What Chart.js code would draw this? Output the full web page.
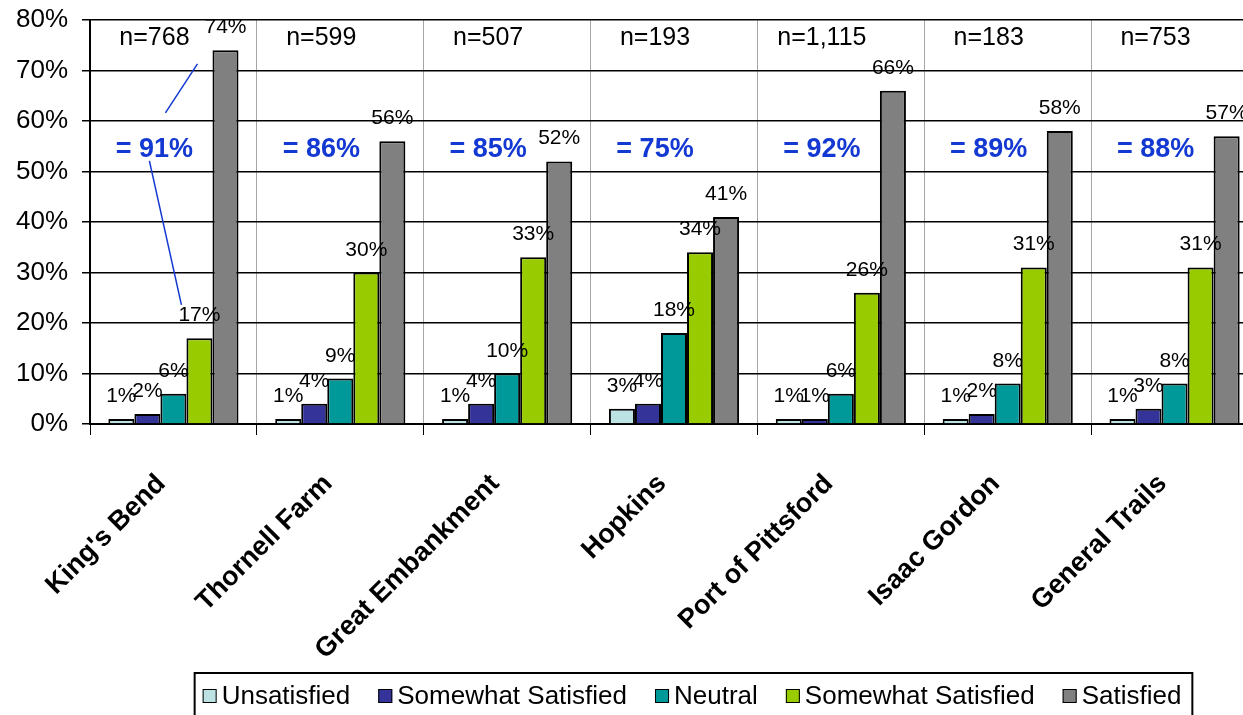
<!DOCTYPE html>
<html>
<head>
<meta charset="utf-8">
<script src="https://cdn.jsdelivr.net/npm/chart.js@4.4.1/dist/chart.umd.min.js"></script>
<style>
    html, body { margin: 0; padding: 0; background: #fff; overflow: hidden; }
    #wrap { position: relative; width: 1264px; height: 715px; }
</style>
</head>
<body>
<div id="wrap"><canvas id="chart"></canvas></div>
<script>
"use strict";

// Data
const trails = ["King's Bend", 'Thornell Farm', 'Great Embankment', 'Hopkins', 'Port of Pittsford', 'Isaac Gordon', 'General Trails'];
const seriesNames = ['Unsatisfied', 'Somewhat Satisfied', 'Neutral', 'Somewhat Satisfied', 'Satisfied'];
const unsatisfied = [1, 1, 1, 3, 1, 1, 1];
const somewhatUnsatisfied = [2, 4, 4, 4, 1, 2, 3];
const neutral = [6, 9, 10, 18, 6, 8, 8];
const somewhatSatisfied = [17, 30, 33, 34, 26, 31, 31];
const satisfied = [74, 56, 52, 41, 66, 58, 57];
const sampleSizes = ['n=768', 'n=599', 'n=507', 'n=193', 'n=1,115', 'n=183', 'n=753'];
const satisfiedTotals = [91, 86, 85, 75, 92, 89, 88];
const yTicks = [0, 10, 20, 30, 40, 50, 60, 70, 80];

// Pointer lines in King's Bend, in (category offset, percent) units
const pointerLines = [
    [[0.144, 71.3], [-0.048, 61.6]],
    [[-0.144, 52.1], [0.048, 23.6]]
];

const FONT = "'Liberation Sans', Arial, sans-serif";
const colors = ['#BDE2E4', '#333399', '#009999', '#99CC00', '#808080'];
const values = [unsatisfied, somewhatUnsatisfied, neutral, somewhatSatisfied, satisfied];

/**
 * Value labels, sample sizes, totals and pointer lines
 */
const annotationPlugin = {
    id: 'annotations',
    afterDatasetsDraw(chart) {
        const ctx = chart.ctx;
        const x = chart.scales.x;
        const y = chart.scales.y;
        const step = x.getPixelForValue(1) - x.getPixelForValue(0);

        ctx.save();
        ctx.fillStyle = '#000';
        ctx.font = '21px ' + FONT;
        ctx.textAlign = 'center';
        ctx.textBaseline = 'alphabetic';
        chart.data.datasets.forEach((ds, di) => {
            chart.getDatasetMeta(di).data.forEach((bar, i) => {
                ctx.fillText(ds.data[i] + '%', bar.x, bar.y - 17);
            });
        });

        ctx.font = '25px ' + FONT;
        ctx.textBaseline = 'middle';
        sampleSizes.forEach((t, i) => {
            ctx.fillText(t, x.getPixelForValue(i) - 19, y.getPixelForValue(76.4));
        });

        ctx.fillStyle = '#1438D2';
        ctx.font = 'bold 27px ' + FONT;
        satisfiedTotals.forEach((v, i) => {
            ctx.fillText('= ' + v + '%', x.getPixelForValue(i) - 19, y.getPixelForValue(54.3));
        });

        ctx.strokeStyle = '#1438D2';
        ctx.lineWidth = 1.5;
        const cx = x.getPixelForValue(0);
        pointerLines.forEach(seg => {
            ctx.beginPath();
            ctx.moveTo(cx + seg[0][0] * step, y.getPixelForValue(seg[0][1]));
            ctx.lineTo(cx + seg[1][0] * step, y.getPixelForValue(seg[1][1]));
            ctx.stroke();
        });
        ctx.restore();
    }
};

/**
 * Boxed legend at the bottom
 */
const boxLegendPlugin = {
    id: 'boxLegend',
    afterDraw(chart) {
        const ctx = chart.ctx;
        const area = chart.chartArea;
        const box = 14, gapText = 5, gapItem = 28;
        ctx.save();
        ctx.font = '26px ' + FONT;
        const widths = chart.data.datasets.map(ds => ctx.measureText(ds.label).width);
        const total = widths.reduce((a, w) => a + box + gapText + w, 0) + gapItem * (widths.length - 1);
        const center = (area.left + area.right) / 2 + 18;
        let px = center - total / 2;
        const top = chart.height - 42;
        const mid = top + 23;

        ctx.strokeStyle = '#000';
        ctx.lineWidth = 2;
        ctx.strokeRect(px - 8, top, total + 19, 60);

        ctx.textAlign = 'left';
        ctx.textBaseline = 'middle';
        chart.data.datasets.forEach((ds, i) => {
            ctx.fillStyle = ds.backgroundColor;
            ctx.fillRect(px, mid - box / 2, box, box);
            ctx.lineWidth = 1;
            ctx.strokeRect(px + 0.5, mid - box / 2 + 0.5, box - 1, box - 1);
            ctx.fillStyle = '#000';
            ctx.fillText(ds.label, px + box + gapText, mid + 1);
            px += box + gapText + widths[i] + gapItem;
        });
        ctx.restore();
    }
};

new Chart(document.getElementById('chart').getContext('2d'), {
    type: 'bar',
    data: {
        labels: trails,
        datasets: seriesNames.map((name, i) => ({
            label: name,
            data: values[i],
            backgroundColor: colors[i],
            borderColor: '#000',
            borderWidth: 2,
            categoryPercentage: 0.78,
            barPercentage: 1
        }))
    },
    options: {
        responsive: true,
        maintainAspectRatio: false,
        animation: false,
        devicePixelRatio: 1,
        layout: { padding: { top: 20, right: 6, left: 0, bottom: 0 } },
        plugins: {
            legend: { display: false },
            tooltip: { enabled: false }
        },
        scales: {
            x: {
                offset: true,
                grid: { color: '#A6A6A6', lineWidth: 1, tickColor: '#000', tickLength: 11, offset: true },
                border: { color: '#000', width: 2 },
                ticks: {
                    color: '#000',
                    font: { family: FONT, size: 27, weight: 'bold' },
                    minRotation: 45,
                    maxRotation: 45,
                    autoSkip: false,
                    padding: 33,
                    labelOffset: -12
                },
                afterFit(scale) { scale.height = 291; }
            },
            y: {
                min: 0,
                max: 80,
                afterBuildTicks(scale) { scale.ticks = yTicks.map(v => ({ value: v })); },
                ticks: {
                    color: '#000',
                    font: { family: FONT, size: 26 },
                    padding: 14,
                    callback: v => v + '%'
                },
                grid: { color: '#000', lineWidth: 1.5, tickLength: 8, tickColor: '#000' },
                border: { color: '#000', width: 2 },
                afterFit(scale) {
                    scale.width = 90;
                    scale.paddingTop = 0;
                    scale.paddingBottom = 0;
                }
            }
        }
    },
    plugins: [annotationPlugin, boxLegendPlugin]
});
</script>
</body>
</html>
